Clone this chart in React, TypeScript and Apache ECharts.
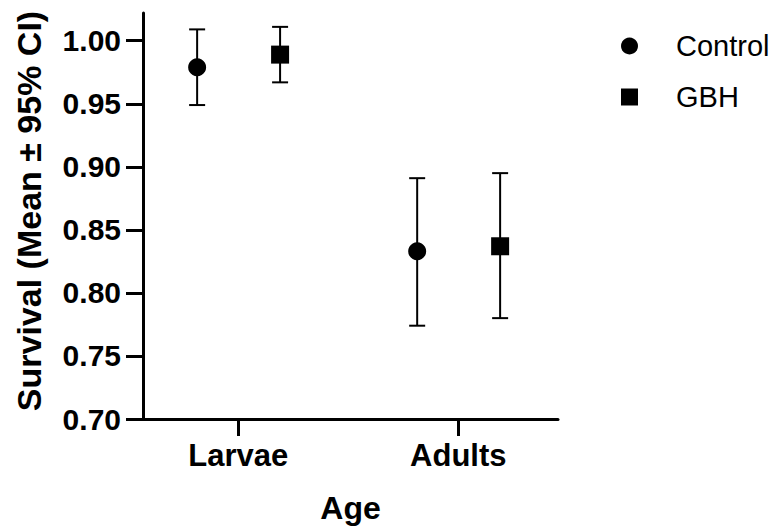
import React, { useEffect, useRef } from "react";
import * as echarts from "echarts";

const categories = ["Larvae", "Adults"];
const seriesNames = ["Control", "GBH"];
const controlMean = [0.979, 0.833];
const controlLow = [0.949, 0.774];
const controlHigh = [1.009, 0.891];
const gbhMean = [0.989, 0.837];
const gbhLow = [0.967, 0.78];
const gbhHigh = [1.011, 0.895];
const yTicks = [0.7, 0.75, 0.8, 0.85, 0.9, 0.95, 1.0];

const FONT = "'Liberation Sans', Arial, Helvetica, sans-serif";
const DODGE = [-0.187, 0.19];

function buildPoints(mean: number[], dodge: number) {
  return mean.map((m, i) => [i + 1 + dodge, m]);
}
function buildBars(low: number[], high: number[], dodge: number) {
  return low.map((l, i) => [i + 1 + dodge, l, high[i]]);
}

const errorRender = (params: any, api: any) => {
  const x = api.value(0);
  const lo = api.coord([x, api.value(1)]);
  const hi = api.coord([x, api.value(2)]);
  const half = 8;
  const style = { stroke: "#000", lineWidth: 2 };
  return {
    type: "group",
    children: [
      { type: "line", shape: { x1: lo[0], y1: lo[1], x2: hi[0], y2: hi[1] }, style },
      { type: "line", shape: { x1: hi[0] - half, y1: hi[1], x2: hi[0] + half, y2: hi[1] }, style },
      { type: "line", shape: { x1: lo[0] - half, y1: lo[1], x2: lo[0] + half, y2: lo[1] }, style },
    ],
  };
};

export default function App() {
  const ref = useRef<HTMLDivElement>(null);
  useEffect(() => {
    if (!ref.current) return;
    const chart = echarts.init(ref.current, undefined, { renderer: "svg" });
    chart.setOption({
      animation: false,
      backgroundColor: "#fff",
      grid: { left: 143, right: 216, top: 13, bottom: 108, containLabel: false },
      legend: {
        orient: "vertical",
        left: 616,
        top: 26,
        itemWidth: 17,
        itemHeight: 17,
        itemGap: 21,
        selectedMode: false,
        data: [
          { name: seriesNames[0], icon: "circle" },
          { name: seriesNames[1], icon: "rect" },
        ],
        itemStyle: { opacity: 1 },
        textStyle: {
          fontFamily: FONT,
          fontSize: 29,
          color: "#000",
          lineHeight: 30,
          padding: [0, 0, 0, 33],
        },
      },
      xAxis: {
        type: "value",
        min: 0.567,
        max: 2.453,
        name: "Age",
        nameLocation: "middle",
        nameGap: 73,
        nameTextStyle: { fontFamily: FONT, fontSize: 32, fontWeight: "bold", color: "#000" },
        splitLine: { show: false },
        axisLine: { show: true, lineStyle: { color: "#000", width: 3 } },
        axisTick: {
          show: true,
          length: 17,
          customValues: [1, 2],
          lineStyle: { color: "#000", width: 3 },
        },
        axisLabel: {
          customValues: [1, 2],
          margin: 21,
          fontFamily: FONT,
          fontSize: 31,
          fontWeight: "bold",
          color: "#000",
          formatter: (v: number) => categories[Math.round(v) - 1] ?? "",
        },
      },
      yAxis: {
        type: "value",
        min: 0.7,
        max: 1.022,
        name: "Survival (Mean ± 95% CI)",
        nameLocation: "middle",
        nameGap: 97,
        nameTextStyle: {
          fontFamily: FONT,
          fontSize: 34,
          fontWeight: "bold",
          color: "#000",
          padding: [0, 0, 0, 10],
        },
        splitLine: { show: false },
        axisLine: { show: true, lineStyle: { color: "#000", width: 3 } },
        axisTick: {
          show: true,
          length: 17,
          customValues: yTicks,
          lineStyle: { color: "#000", width: 3 },
        },
        axisLabel: {
          customValues: yTicks,
          margin: 22,
          fontFamily: FONT,
          fontSize: 30,
          fontWeight: "bold",
          color: "#000",
          formatter: (v: number) => v.toFixed(2),
        },
      },
      series: [
        {
          name: "Control CI",
          type: "custom",
          renderItem: errorRender,
          data: buildBars(controlLow, controlHigh, DODGE[0]),
          encode: { x: 0, y: [1, 2] },
          z: 1,
        },
        {
          name: "GBH CI",
          type: "custom",
          renderItem: errorRender,
          data: buildBars(gbhLow, gbhHigh, DODGE[1]),
          encode: { x: 0, y: [1, 2] },
          z: 1,
        },
        {
          name: seriesNames[0],
          type: "scatter",
          symbol: "circle",
          symbolSize: 18,
          itemStyle: { color: "#000", opacity: 1 },
          data: buildPoints(controlMean, DODGE[0]),
          z: 3,
        },
        {
          name: seriesNames[1],
          type: "scatter",
          symbol: "rect",
          symbolSize: 18,
          itemStyle: { color: "#000", opacity: 1 },
          data: buildPoints(gbhMean, DODGE[1]),
          z: 3,
        },
      ],
    });
    return () => chart.dispose();
  }, []);
  return (
    <div
      ref={ref}
      style={{ position: "fixed", left: 0, top: 0, width: 774, height: 529, background: "#fff" }}
    />
  );
}
